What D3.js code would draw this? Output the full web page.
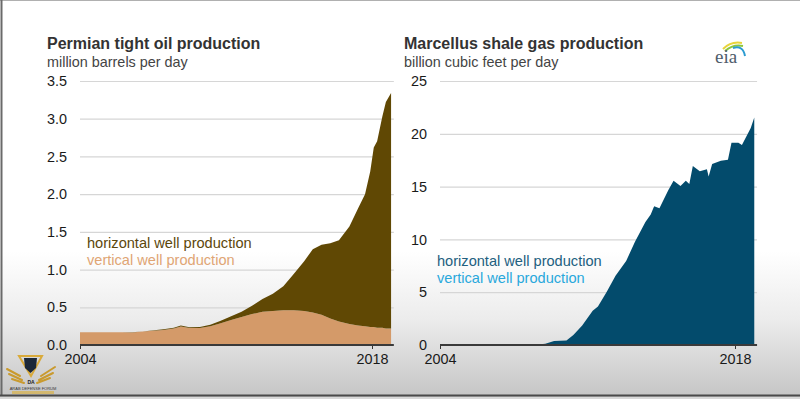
<!DOCTYPE html>
<html>
<head>
<meta charset="utf-8">
<script src="https://cdn.jsdelivr.net/npm/d3@7"></script>
<style>
  body { margin: 0; background: #fff; }
  svg { display: block; font-family: "Liberation Sans", Arial, sans-serif; }
</style>
</head>
<body>
<div class="chart"></div>
<script>
// Permian tight oil, million barrels per day
const permianDates = ["2004-01","2005-01","2006-01","2006-07","2007-01","2008-01","2008-07","2008-11","2009-04","2009-10",
  "2010-04","2010-10","2011-04","2011-10","2012-04","2012-10","2013-04","2013-10","2014-04","2014-10",
  "2015-03","2015-08","2016-01","2016-06","2016-12","2017-05","2017-09","2017-12","2018-02","2018-04",
  "2018-07","2018-09","2018-12"];
const permianVertical = [0.17,0.17,0.17,0.165,0.18,0.20,0.22,0.245,0.225,0.225,
  0.25,0.29,0.33,0.37,0.41,0.44,0.45,0.46,0.46,0.45,
  0.43,0.40,0.35,0.31,0.28,0.26,0.25,0.24,0.24,0.23,
  0.23,0.22,0.22];
const permianHorizontal = [0.00,0.00,0.00,0.005,0.00,0.01,0.01,0.015,0.01,0.015,
  0.02,0.03,0.05,0.07,0.11,0.17,0.23,0.32,0.48,0.66,
  0.84,0.93,1.00,1.08,1.29,1.55,1.75,2.06,2.38,2.47,
  2.80,3.00,3.12];

// Marcellus shale gas, billion cubic feet per day
const marcellusDates = ["2004-01","2008-06","2009-01","2009-06","2010-01","2010-05","2010-10","2011-04","2011-07","2011-12",
  "2012-05","2012-11","2013-04","2013-10","2014-01","2014-03","2014-06","2014-11","2015-02","2015-06",
  "2015-09","2015-11","2016-01","2016-05","2016-09","2016-10","2016-12","2017-05","2017-09","2017-11",
  "2018-03","2018-05","2018-10","2018-12"];
const marcellusVertical = [0.00,0.01,0.02,0.03,0.03,0.04,0.04,0.05,0.05,0.05,
  0.05,0.05,0.05,0.05,0.05,0.05,0.05,0.05,0.05,0.05,
  0.05,0.05,0.05,0.05,0.05,0.05,0.05,0.05,0.05,0.05,
  0.05,0.05,0.05,0.05];
const marcellusHorizontal = [0.0,0.0,0.1,0.35,0.4,0.9,1.8,3.2,3.6,5.0,
  6.5,7.9,9.7,11.6,12.3,13.1,12.9,14.6,15.5,15.0,
  15.5,15.2,16.9,16.4,16.6,15.9,17.1,17.4,17.5,19.1,
  19.1,18.9,20.5,21.5];

const permianTicks = [0, 0.5, 1.0, 1.5, 2.0, 2.5, 3.0, 3.5];
const marcellusTicks = [0, 5, 10, 15, 20, 25];
const yearTicks = ["2004-01", "2018-01"];
const legendLabels = ["horizontal well production", "vertical well production"];

const parse = d3.timeParse("%Y-%m");
const W = 800, H = 399;

const svg = d3.select(".chart").append("svg").attr("width", W).attr("height", H);

// video-frame background
const defs = svg.append("defs");
const grad = defs.append("linearGradient").attr("id", "bg").attr("x1", 0).attr("y1", 0).attr("x2", 0).attr("y2", 1);
grad.append("stop").attr("offset", "0%").attr("stop-color", "#ffffff");
grad.append("stop").attr("offset", "63%").attr("stop-color", "#ffffff");
grad.append("stop").attr("offset", "80%").attr("stop-color", "#ececec");
grad.append("stop").attr("offset", "99%").attr("stop-color", "#c6c6c6");
svg.append("rect").attr("width", W).attr("height", H).attr("fill", "url(#bg)");
svg.append("line").attr("x1", 0).attr("x2", W).attr("y1", 0.5).attr("y2", 0.5).attr("stroke", "#b0b0b0");
svg.append("line").attr("x1", 1.5).attr("x2", 1.5).attr("y1", 0).attr("y2", 396).attr("stroke", "#6a6a6a").attr("stroke-width", 2);
svg.append("line").attr("x1", 0).attr("x2", W).attr("y1", 395.5).attr("y2", 395.5).attr("stroke", "#4a4a4a").attr("stroke-width", 2);
svg.append("rect").attr("x", 0).attr("y", 397).attr("width", W).attr("height", 2).attr("fill", "#d8d8d8");

function panel(opt) {
  const dates = opt.dates.map(parse);
  const rows = dates.map((d, i) => ({date: d, vertical: opt.vertical[i], horizontal: opt.horizontal[i]}));
  const end = d3.timeMonth.offset(dates[dates.length - 1], 1);

  const x = d3.scaleTime().domain([parse("2004-01"), parse("2018-01")]).range(opt.xRange);
  const y = d3.scaleLinear().domain([0, opt.yMax]).range([345, 81]);
  const g = svg.append("g");

  // gridlines + labels
  const yAxis = g.append("g")
    .attr("transform", `translate(${opt.xRange[0]},0)`)
    .call(d3.axisLeft(y).tickValues(opt.ticks).tickFormat(opt.fmt)
      .tickSize(-(x(end) + 1 - opt.xRange[0])).tickPadding(opt.pad));
  yAxis.select(".domain").remove();
  yAxis.selectAll("line").attr("stroke", "#d6d6d6").attr("stroke-width", 1.2);
  yAxis.selectAll("text").attr("fill", "#1a1a1a").attr("font-size", "14.4px");

  const stack = d3.stack().keys(["vertical", "horizontal"]);
  const series = stack(rows);
  const area = d3.area()
    .x(d => x(d.data.date))
    .y0(d => y(d[0]))
    .y1(d => y(d[1]));
  g.selectAll("path.area").data(series).enter().append("path")
    .attr("class", "area")
    .attr("d", area)
    .attr("fill", (d, i) => opt.fills[i]);

  // x axis
  const xAxis = g.append("g")
    .attr("transform", "translate(0,345)")
    .call(d3.axisBottom(x).tickValues(yearTicks.map(parse)).tickFormat(d3.timeFormat("%Y")).tickSize(4).tickPadding(5));
  xAxis.select(".domain").remove();
  xAxis.selectAll("line").attr("stroke", "#333");
  xAxis.selectAll("text").attr("fill", "#1a1a1a").attr("font-size", "14.4px");
  g.append("line").attr("x1", x(parse("2004-01"))).attr("x2", x(end) + 1)
    .attr("y1", 345).attr("y2", 345).attr("stroke", "#3a3a3a").attr("stroke-width", 2);

  // titles
  g.append("text").attr("x", opt.titleX).attr("y", 49).text(opt.title)
    .attr("font-size", "16px").attr("font-weight", "bold").attr("fill", "#333");
  g.append("text").attr("x", opt.titleX).attr("y", 67).text(opt.unit)
    .attr("font-size", "14.4px").attr("fill", "#444");

  // legend
  g.selectAll("text.legend").data(legendLabels).enter().append("text")
    .attr("class", "legend")
    .attr("x", opt.legendX)
    .attr("y", (d, i) => opt.legendY + i * 17)
    .attr("font-size", "14.6px")
    .attr("fill", (d, i) => opt.legendColors[i])
    .text(d => d);
}

panel({
  dates: permianDates, vertical: permianVertical, horizontal: permianHorizontal,
  xRange: [80, 372], yMax: 3.5, ticks: permianTicks, fmt: d3.format(".1f"), pad: 13,
  fills: ["#d49a69", "#604804"],
  title: "Permian tight oil production", unit: "million barrels per day", titleX: 47,
  legendX: 87, legendY: 248, legendColors: ["#5c470c", "#e0a574"]
});

panel({
  dates: marcellusDates, vertical: marcellusVertical, horizontal: marcellusHorizontal,
  xRange: [440, 735], yMax: 25, ticks: marcellusTicks, fmt: d3.format("d"), pad: 13,
  fills: ["#2aa6d8", "#034b6c"],
  title: "Marcellus shale gas production", unit: "billion cubic feet per day", titleX: 404,
  legendX: 437, legendY: 266, legendColors: ["#22607f", "#29a8dc"]
});

// eia logo
const logo = svg.append("g");
logo.append("path").attr("d", "M723,49 Q731,41 742,43").attr("fill", "none").attr("stroke", "#e8d43a").attr("stroke-width", 2);
logo.append("path").attr("d", "M725,51 Q733,44 743,46").attr("fill", "none").attr("stroke", "#8cc63f").attr("stroke-width", 2);
logo.append("path").attr("d", "M733,48 Q743,45 745,56").attr("fill", "none").attr("stroke", "#2b9bd1").attr("stroke-width", 2);
logo.append("text").attr("x", 715).attr("y", 63).text("eia")
  .attr("font-family", "Liberation Serif, DejaVu Serif, serif").attr("font-size", "19px").attr("fill", "#4f5d6b");

// watermark
const wm = svg.append("g");
wm.append("path").attr("d", "M19,356 L42,356 L31,376 Z").attr("fill", "none").attr("stroke", "#d9aa3a").attr("stroke-width", 2);
wm.append("path").attr("d", "M24,358 L37,358 L36,368 L30.5,373 L25,368 Z").attr("fill", "#1c2838");
wm.append("path").attr("d", "M7,369 L20,376 M9,374 L22,380 M12,379 L24,383 M55,367 L41,376 M53,373 L39,380 M50,378 L37,383")
  .attr("stroke", "#c99a2e").attr("stroke-width", 2).attr("stroke-linecap", "round");
wm.append("text").attr("x", 31).attr("y", 384).attr("text-anchor", "middle").attr("font-size", "5px").attr("font-weight", "bold").attr("fill", "#222").text("DA");
wm.append("text").attr("x", 33).attr("y", 389.5).attr("text-anchor", "middle").attr("font-size", "4px").attr("fill", "#333").text("ARAB DEFENSE FORUM");
wm.append("rect").attr("x", 12).attr("y", 391).attr("width", 42).attr("height", 3).attr("fill", "#d9b24a").attr("opacity", 0.7);
</script>
</body>
</html>
